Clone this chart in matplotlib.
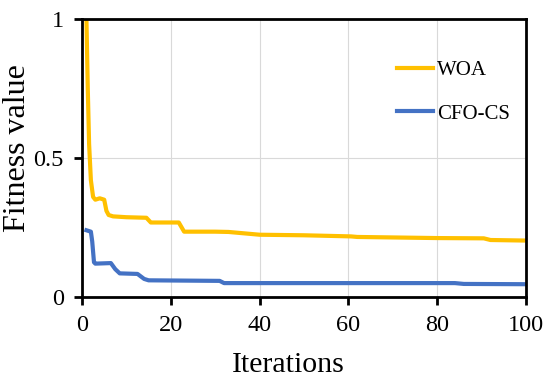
import matplotlib
matplotlib.use("Agg")
import matplotlib.pyplot as plt

# Data
woa_iter = [1, 1.3, 1.6, 2.0, 2.5, 3.0, 4.0, 5.0, 5.5, 6.0, 7.0, 10, 14.5, 15.5, 21.8, 23, 30, 33, 40, 50, 60.6, 62, 80, 90.5, 92, 100]
woa_val = [1.0, 0.75, 0.55, 0.42, 0.36, 0.35, 0.355, 0.35, 0.31, 0.295, 0.29, 0.287, 0.285, 0.268, 0.268, 0.235, 0.235, 0.234, 0.224, 0.222, 0.218, 0.216, 0.212, 0.211, 0.205, 0.203]

cfo_iter = [1, 2.0, 2.3, 2.7, 3.0, 6.5, 7.5, 8.5, 12.5, 14, 15, 31, 32, 84, 86, 100]
cfo_val = [0.24, 0.235, 0.2, 0.125, 0.12, 0.122, 0.10, 0.085, 0.083, 0.065, 0.06, 0.058, 0.05, 0.05, 0.047, 0.046]

x_ticks = [0, 20, 40, 60, 80, 100]
y_ticks = [0, 0.5, 1]
y_tick_labels = ["0", "0.5", "1"]

plt.rcParams['font.family'] = ['Liberation Serif', 'DejaVu Serif']

fig = plt.figure(figsize=(5.5, 3.84), dpi=100)
ax = fig.add_axes([82/550, 1-297/384, 444/550, 278/384])

ax.plot(woa_iter, woa_val, color='#FFC000', lw=3, label='WOA', solid_joinstyle='round')
ax.plot(cfo_iter, cfo_val, color='#4472C4', lw=3, label='CFO-CS', solid_joinstyle='round')

ax.set_xlim(0, 100)
ax.set_ylim(0, 1)
ax.set_xticks(x_ticks)
ax.set_yticks(y_ticks)
ax.set_yticklabels(y_tick_labels)
ax.grid(True, color='#d9d9d9', lw=0.8)
ax.set_axisbelow(True)
for s in ax.spines.values():
    s.set_linewidth(2)
ax.tick_params(direction='out', length=6, width=2, labelsize=17.5, pad=7)

ax.set_xlabel('Iterations', fontsize=21.5)
ax.set_ylabel('Fitness value', fontsize=23)
ax.xaxis.set_label_coords(0.464, -0.198)
ax.yaxis.set_label_coords(-0.113, 0.536)

ax.legend(loc='upper left', bbox_to_anchor=(0.709, 0.851), frameon=False, fontsize=15,
          handlelength=1.73, handletextpad=0.2, labelspacing=1.16, borderpad=0, borderaxespad=0)

fig.savefig('out.png', dpi=100)
